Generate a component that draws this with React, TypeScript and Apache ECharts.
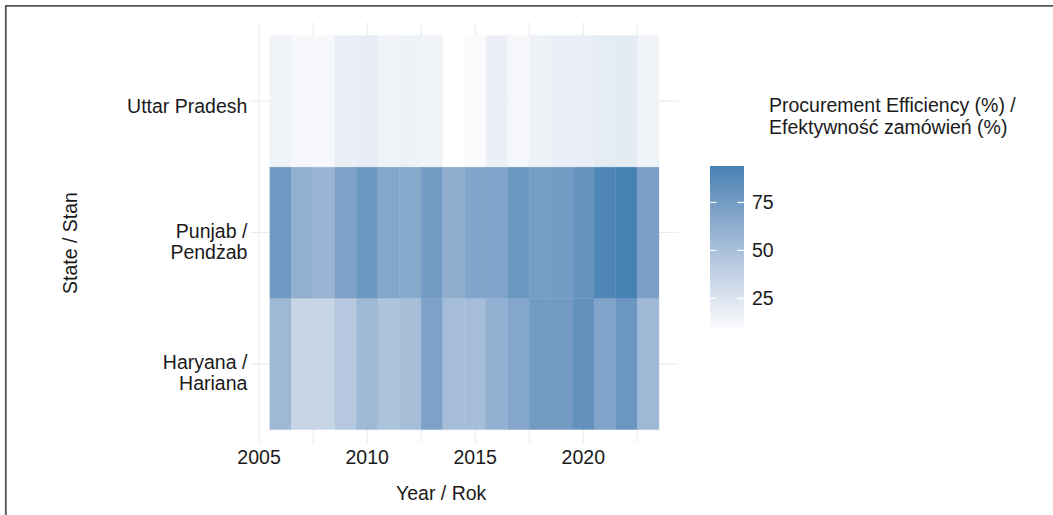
import React, { useEffect, useRef } from "react";
import * as echarts from "echarts";

const years = [2006, 2007, 2008, 2009, 2010, 2011, 2012, 2013, 2014, 2015, 2016, 2017, 2018, 2019, 2020, 2021, 2022, 2023];
const states = ["Haryana /\nHariana", "Punjab /\nPendżab", "Uttar Pradesh"];
const haryana = [55, 35, 35, 44, 55, 48, 51, 71, 52, 52, 61, 68, 76, 76, 83, 70, 79, 55];
const punjab = [77, 61, 57, 71, 78, 68, 66, 75, 62, 69, 69, 78, 74, 75, 81, 91, 94, 72];
const uttarPradesh = [15, 12, 12, 18, 19, 15, 16, 15, 7.5, 10, 17, 12, 16, 18, 18, 20, 21, 15];
const xTickLabels = [2005, 2010, 2015, 2020];
const xGridValues = [2005, 2007.5, 2010, 2012.5, 2015, 2017.5, 2020, 2022.5];
const yGridValues = [1, 2, 3];
const yLabelValues = [0.932, 1.932, 2.962];
const legendTicks = [25, 50, 75];

const FONT = "'Liberation Sans', Arial, Helvetica, sans-serif";
const TEXT = "#1a1a1a";

function srgbToLin(c: number) {
  c /= 255;
  return c <= 0.04045 ? c / 12.92 : Math.pow((c + 0.055) / 1.055, 2.4);
}
function linToSrgb(c: number) {
  const v = c <= 0.0031308 ? 12.92 * c : 1.055 * Math.pow(c, 1 / 2.4) - 0.055;
  return Math.round(Math.max(0, Math.min(1, v)) * 255);
}
const XN = 0.95047, YN = 1, ZN = 1.08883;
function toLab(r: number, g: number, b: number) {
  const R = srgbToLin(r), G = srgbToLin(g), B = srgbToLin(b);
  const X = 0.4124 * R + 0.3576 * G + 0.1805 * B;
  const Y = 0.2126 * R + 0.7152 * G + 0.0722 * B;
  const Z = 0.0193 * R + 0.1192 * G + 0.9505 * B;
  const f = (t: number) => (t > 0.008856 ? Math.cbrt(t) : 7.787 * t + 16 / 116);
  const fx = f(X / XN), fy = f(Y / YN), fz = f(Z / ZN);
  return [116 * fy - 16, 500 * (fx - fy), 200 * (fy - fz)];
}
function fromLab(L: number, a: number, b: number) {
  const fy = (L + 16) / 116, fx = fy + a / 500, fz = fy - b / 200;
  const finv = (t: number) => (t * t * t > 0.008856 ? t * t * t : (t - 16 / 116) / 7.787);
  const X = XN * finv(fx), Y = YN * finv(fy), Z = ZN * finv(fz);
  const R = 3.2406 * X - 1.5372 * Y - 0.4986 * Z;
  const G = -0.9689 * X + 1.8758 * Y + 0.0415 * Z;
  const B = 0.0557 * X - 0.204 * Y + 1.057 * Z;
  return `rgb(${linToSrgb(R)},${linToSrgb(G)},${linToSrgb(B)})`;
}
function labRamp(n: number) {
  const lo = toLab(255, 255, 255);
  const hi = toLab(70, 130, 180);
  const out: string[] = [];
  for (let i = 0; i < n; i++) {
    const t = i / (n - 1);
    out.push(fromLab(lo[0] + (hi[0] - lo[0]) * t, lo[1] + (hi[1] - lo[1]) * t, lo[2] + (hi[2] - lo[2]) * t));
  }
  return out;
}

export default function App() {
  const ref = useRef<HTMLDivElement>(null);
  useEffect(() => {
    if (!ref.current) return;
    const chart = echarts.init(ref.current, null, { renderer: "svg" });
    const rows = [haryana, punjab, uttarPradesh];
    const tiles: number[][] = [];
    rows.forEach((vals, s) => vals.forEach((v, i) => tiles.push([years[i], s + 1, v])));
    const all = rows.flat();
    const vMin = Math.min(...all);
    const vMax = Math.max(...all);
    const ramp = labRamp(40);
    const gradStops = ramp.map((c, i) => ({ offset: 1 - i / (ramp.length - 1), color: c })).reverse();

    const option: any = {
      animation: false,
      backgroundColor: "#ffffff",
      textStyle: { fontFamily: FONT },
      grid: [
        { left: 250.4, top: 22.3, width: 428, height: 420.4 },
        { left: 710, top: 166, width: 34, height: 166 },
      ],
      xAxis: [
        {
          type: "value", gridIndex: 0, min: 2004.6, max: 2024.4,
          axisLine: { show: false }, axisTick: { show: false }, splitLine: { show: false },
          axisLabel: {
            customValues: xTickLabels, fontSize: 19.5, color: TEXT, margin: 4, fontFamily: FONT,
            formatter: (v: number) => String(Math.round(v)),
          },
        },
        { type: "value", gridIndex: 1, min: 0, max: 1, show: false },
      ],
      yAxis: [
        {
          type: "value", gridIndex: 0, min: 0.4, max: 3.6,
          axisLine: { show: false }, axisTick: { show: false }, splitLine: { show: false },
          axisLabel: {
            customValues: yLabelValues, fontSize: 19.5, color: TEXT, margin: 3, lineHeight: 21, align: "right",
            fontFamily: FONT,
            formatter: (v: number) => states[Math.round(v) - 1] || "",
          },
        },
        {
          type: "value", gridIndex: 1, min: vMin, max: vMax, position: "right",
          axisLine: { show: false }, axisTick: { show: false }, splitLine: { show: false },
          axisLabel: { customValues: legendTicks, fontSize: 19.5, color: TEXT, margin: 8, fontFamily: FONT },
        },
      ],
      visualMap: {
        type: "continuous", show: false, min: vMin, max: vMax, dimension: 2, seriesIndex: 2,
        inRange: { color: ramp },
      },
      series: [
        {
          type: "custom", xAxisIndex: 0, yAxisIndex: 0, z: 1, silent: true,
          data: xGridValues.map((v) => [v]),
          encode: { x: 0 },
          renderItem: (params: any, api: any) => {
            const v = api.value(0);
            const a = api.coord([v, 0.4]);
            const b = api.coord([v, 3.6]);
            return { type: "line", shape: { x1: a[0], y1: a[1], x2: b[0], y2: b[1] }, style: { stroke: "#ebebeb", lineWidth: 1.1 } };
          },
        },
        {
          type: "custom", xAxisIndex: 0, yAxisIndex: 0, z: 1, silent: true,
          data: yGridValues.map((v) => [2004.6, v]),
          encode: { x: 0, y: 1 },
          renderItem: (params: any, api: any) => {
            const v = api.value(1);
            const a = api.coord([2004.6, v]);
            const b = api.coord([2024.4, v]);
            return { type: "line", shape: { x1: a[0], y1: a[1], x2: b[0], y2: b[1] }, style: { stroke: "#ebebeb", lineWidth: 1.1 } };
          },
        },
        {
          type: "custom", xAxisIndex: 0, yAxisIndex: 0, z: 2, silent: true,
          data: tiles,
          encode: { x: 0, y: 1 },
          renderItem: (params: any, api: any) => {
            const x = api.value(0), y = api.value(1);
            const p1 = api.coord([x - 0.5, y + 0.5]);
            const p2 = api.coord([x + 0.5, y - 0.5]);
            const c = api.visual("color");
            return {
              type: "rect",
              shape: { x: p1[0], y: p1[1], width: p2[0] - p1[0], height: p2[1] - p1[1] },
              style: { fill: c, stroke: c, lineWidth: 0.4 },
            };
          },
        },
        {
          type: "custom", xAxisIndex: 1, yAxisIndex: 1, z: 3, silent: true,
          data: [[0, vMin, vMax]],
          encode: { x: 0, y: 1 },
          renderItem: (params: any, api: any) => {
            const top = api.coord([0, vMax]);
            const bot = api.coord([1, vMin]);
            const x0 = top[0], x1 = bot[0];
            const children: any[] = [
              {
                type: "rect",
                shape: { x: x0, y: top[1], width: x1 - x0, height: bot[1] - top[1] },
                style: { fill: new echarts.graphic.LinearGradient(0, 0, 0, 1, gradStops) },
              },
            ];
            legendTicks.forEach((t) => {
              const p = api.coord([0, t]);
              children.push({ type: "line", shape: { x1: x0, y1: p[1], x2: x0 + 6.5, y2: p[1] }, style: { stroke: "#ffffff", lineWidth: 1.2 } });
              children.push({ type: "line", shape: { x1: x1 - 6.5, y1: p[1], x2: x1, y2: p[1] }, style: { stroke: "#ffffff", lineWidth: 1.2 } });
            });
            return { type: "group", children };
          },
        },
      ],
      graphic: [
        {
          type: "polyline", silent: true,
          shape: { points: [[5.8, 515], [5.8, 5.8], [1053, 5.8]] },
          style: { stroke: "#555555", lineWidth: 1.8, fill: null },
        },
        {
          type: "text", left: 396, top: 483,
          style: { text: "Year / Rok", fontSize: 19.5, fill: TEXT, fontFamily: FONT },
        },
        {
          type: "text", x: 70, y: 243, rotation: Math.PI / 2,
          style: { text: "State / Stan", fontSize: 19.5, fill: TEXT, fontFamily: FONT, align: "center", verticalAlign: "middle" },
        },
        {
          type: "text", left: 769, top: 94,
          style: { text: "Procurement Efficiency (%) /\nEfektywność zamówień (%)", fontSize: 19.5, lineHeight: 22, fill: TEXT, fontFamily: FONT },
        },
      ],
    };
    chart.setOption(option);
    return () => chart.dispose();
  }, []);
  return <div ref={ref} style={{ position: "absolute", left: 0, top: 0, width: 1053, height: 515 }} />;
}
